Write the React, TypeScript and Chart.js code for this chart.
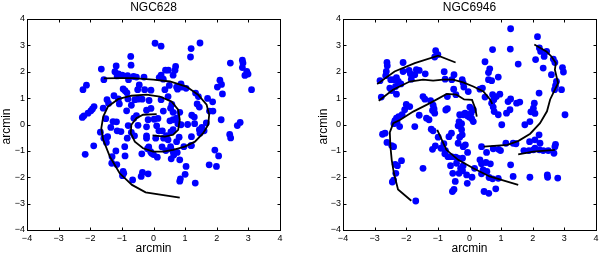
import React, { useEffect, useRef } from "react";
import { Chart, registerables } from "chart.js";

Chart.register(...registerables);

type P = [number, number];

const tickValues = [-4, -3, -2, -1, 0, 1, 2, 3, 4];
const axisLabel = "arcmin";
const title628 = "NGC628";
const title6946 = "NGC6946";

const ngc628Points: P[] = [
  [0.05,3.08],[0.24,2.97],[1.47,3.09],[1.19,2.88],[1.17,2.56],[-0.72,2.58],[-0.71,2.25],[-1.18,2.22],[-1.65,2.1],[2.43,2.33],[2.81,2.44],[2.83,2.33],[2.81,2.16],
  [-1.22,2.0],[-1.11,1.92],[-1.15,1.84],[-0.99,1.87],[-0.82,1.85],[-0.63,1.82],[-0.54,1.8],[-0.3,1.8],[-0.79,1.7],[-1.57,1.7],[0.38,2.06],[0.47,2.06],[0.7,2.2],[0.68,2.06],[0.62,1.87],[0.24,1.87],[0.18,1.78],[0.31,1.72],[2.95,2.01],[2.89,1.86],[2.99,1.91],[2.1,1.68],
  [-2.12,1.49],[-2.23,1.32],[-0.96,1.35],[-0.9,1.28],[-0.84,1.2],[-0.45,1.5],[-0.5,1.32],[-0.28,1.32],[-0.08,1.3],[0.36,1.32],[0.5,1.48],[0.76,1.34],[0.9,1.42],[0.87,1.54],[0.73,1.42],[1.03,1.37],[1.33,1.19],[2.15,1.52],[2.18,1.16],[2.02,1.42],[3.1,1.32],[-1.25,1.09],[-1.47,0.94],[-1.59,0.62],
  [-1.11,0.97],[-0.81,0.97],[-0.59,0.94],[-0.49,0.96],[-0.36,0.96],[-0.7,0.73],[-1.08,0.78],[-1.42,0.8],[-0.14,0.91],[0.24,0.94],[0.46,1.06],[0.58,0.76],[0.54,0.62],[1.42,1.06],[1.38,0.78],[1.45,0.66],[1.71,0.99],[1.87,0.86],[1.88,0.51],[1.77,0.51],[1.21,0.35],[1.29,0.28],[-1.88,0.68],[-1.93,0.59],[-1.98,0.52],[-2.07,0.43],[-2.2,0.33],[-2.25,0.27],[-0.22,0.54],[-0.85,0.52],[-0.08,0.61],[0.31,0.51],[0.62,0.46],[0.83,0.46],
  [-1.28,0.11],[-1.17,0.1],[-1.51,0.22],[-0.62,0.24],[-0.54,0.34],[-0.8,-0.04],[-0.49,-0.03],[-0.22,-0.09],[-0.17,0.18],[0.02,0.2],[0.1,-0.05],[0.14,0.23],[0.17,-0.24],[0.28,-0.24],[0.52,0.14],[0.62,0.18],[0.73,0.24],[0.77,0.03],[0.87,-0.01],[1.08,0],[1.3,0.03],[1.53,-0.11],[1.67,0.06],[2.14,0.18],[2.74,0.08],[2.65,-0.04],[-1.68,-0.29],[-1.35,-0.11],[-1.15,-0.24],[-1.03,-0.27],[-0.7,-0.3],[-0.6,-0.43],
  [-1.57,-0.52],[-1.49,-0.68],[-1.45,-0.46],[-0.83,-0.52],[-0.91,-0.84],[-0.22,-0.43],[-0.22,-0.52],[0.07,-0.52],[0.32,-0.52],[0.41,-0.42],[0.55,-0.28],[0.62,-0.2],[0.46,-0.58],[0.73,-0.65],[0.81,-0.48],[1.2,-0.46],[1.2,-0.8],[1.45,-0.2],[1.47,-0.33],[1.6,-0.24],[2.41,-0.38],[2.44,-0.51],[0.27,-0.85],[-0.15,-0.85],[0.54,-0.84],
  [-1.89,-0.81],[-2.16,-1.13],[-1.31,-1.22],[-1.19,-1.0],[-0.9,-1.19],[-0.37,-1.11],[-0.19,-0.92],[-0.09,-1.03],[0,-1.14],[0.12,-1.24],[-0.06,-1.09],[0.39,-0.99],[0.55,-0.92],[0.62,-1.03],[0.64,-1.16],[0.75,-1.06],[0.56,-1.3],[0.83,-1.34],[0.96,-0.84],[1.18,-0.8],[1.94,-0.97],[2.06,-1.19],[1.76,-1.53],[1.99,-1.59],[-1.32,-1.47],[-1.16,-1.52],[1.03,-1.59],
  [-0.96,-1.78],[-0.94,-1.85],[-0.98,-1.94],[-0.66,-2.1],[-0.35,-1.82],[-0.39,-1.97],[-0.17,-1.87],[1.0,-1.89],[0.85,-2.06],[0.83,-2.15],[1.32,-2.22],
];

const ngc628ArmOuter: P[] = [
  [0.83,-2.77],[-0.25,-2.57],[-0.68,-2.29],[-1.07,-1.85],[-1.38,-1.22],[-1.59,-0.58],[-1.65,-0.14],[-1.59,0.3],[-1.44,0.68],[-1.12,0.96],[-0.7,1.09],[-0.22,1.13],[0.2,1.06],[0.57,0.87],[0.78,0.56],[0.83,0.18],[0.78,-0.2],[0.62,-0.39],[0.36,-0.46],[-0.03,-0.41],
];
const ngc628ArmInner: P[] = [
  [-1.57,1.75],[-1.12,1.76],[-0.64,1.76],[-0.01,1.7],[0.52,1.63],[1.04,1.44],[1.41,1.13],[1.68,0.75],[1.76,0.37],[1.73,-0.01],[1.57,-0.33],[1.31,-0.65],[0.99,-0.84],[0.62,-0.96],[0.31,-1.03],[-0.01,-1.03],[-0.33,-0.9],[-0.59,-0.65],[-0.72,-0.33],[-0.7,-0.01],[-0.54,0.24],[-0.33,0.37],[0.1,0.39],
];

const ngc6946Points: P[] = [
  [1.3,3.63],[2.15,3.33],[1.29,2.86],[0.73,2.84],[-1.07,2.8],[-1.1,2.56],[-1.0,2.65],[2.21,2.9],[2.25,2.77],[2.44,2.77],[2.36,2.58],[2.65,2.48],[2.7,2.35],[2.09,2.46],[2.33,2.14],[2.59,1.89],[2.94,2.16],[2.97,1.99],[1.54,2.29],[0.49,2.38],[0.64,2.11],[0.6,1.97],[0.91,1.8],[0.6,1.7],[0.7,1.66],
  [-2.61,2.35],[-2.6,2.23],[-2.1,2.35],[-2.63,2.01],[-2.65,1.85],[-2.83,1.66],[-2.49,1.7],[-2.39,1.7],[-2.25,1.63],[-2.17,1.54],[-2.31,1.78],[-2.1,2.01],[-1.91,2.05],[-1.87,1.92],[-1.73,1.89],[-1.68,2.08],[-1.59,2.05],[-1.4,1.92],[-1.84,1.72],[-2.52,1.38],[-2.46,1.29],[-2.34,1.44],[-2.31,1.15],[-2.79,1.04],
  [-0.8,2.0],[-0.49,1.89],[-0.77,1.72],[-0.56,1.7],[-0.23,1.7],[-0.2,1.57],[-0.18,1.42],[-0.04,1.25],[0.33,1.34],[0.41,1.38],[0.49,1.04],[-0.5,1.34],[-0.43,1.13],[-0.7,1.06],
  [-1.47,1.06],[-1.41,0.96],[-1.23,0.9],[-1.15,0.73],[-1.12,0.59],[-1.17,0.53],[-1.1,0.43],[-1.36,0.24],[-1.28,0.18],[-1.59,0.35],[-1.89,0.68],[-2.05,0.56],[-2.0,0.76],[-2.13,0.37],[-2.24,0.3],[-2.31,0.24],[-2.36,0.15],[-2.29,0.08],[-2.39,0.03],[-2.21,-0.08],[-1.73,-0.08],[-0.75,0.55],[-0.7,0.6],
  [-2.75,-0.37],[-2.67,-0.33],[-2.61,-0.68],[-2.46,-0.8],[-2.4,-0.84],[-2.35,-1.51],[-2.28,-1.56],[-2.33,-1.85],[-2.15,-1.37],[-2.4,-2.11],[-2.44,-2.18],[-1.47,-1.66],[-1.7,-2.9],
  [-1.21,-0.18],[-1.15,-0.24],[-1.17,-0.94],[-1.08,-0.81],[-0.99,-0.48],[-0.9,-0.9],[-0.81,-0.73],[-0.76,-0.99],[-0.78,-1.11],[-0.68,-1.22],[-0.57,-1.22],[-0.44,-1.24],[-0.6,-1.56],[-0.41,-1.47],[-0.28,-1.66],[-0.2,-1.56],[-0.33,-1.85],[-0.53,-1.85],[-0.22,-1.75],[-0.09,-1.91],[0.08,-2.0],[-0.07,-2.23],[-0.45,-2.16],[-0.49,-2.46],[-0.54,-2.54],[-0.37,-1.28],[-0.22,-1.28],[-0.06,-1.06],[-0.2,-0.84],[-0.36,-0.71],[-0.31,-0.48],[-0.23,-0.39],[-0.57,-0.33],[-0.65,-0.46],[-0.13,-0.77],
  [-0.33,0.11],[-0.25,0.03],[-0.36,-0.05],[-0.25,-0.2],[-0.2,0.37],[-0.14,0.43],[-0.07,0.33],[-0.01,0.28],[0.05,0.43],[0.07,0.22],[0.12,0.11],[0.01,0.66],[0.12,0.56],[-0.31,0.37],
  [0.38,-0.84],[0.54,-1.06],[0.75,-0.92],[0.92,-0.94],[0.98,-0.99],[0.33,-1.34],[0.38,-1.49],[0.52,-1.44],[0.66,-1.49],[0.16,-1.66],[0.43,-1.72],[0.38,-1.87],[0.55,-1.78],[0.62,-2.01],[0.73,-2.06],[0.91,-2.04],[0.46,-2.54],[0.61,-2.61],[0.83,-2.44],
  [1.15,-0.71],[1.38,-0.71],[1.47,-0.73],[1.3,-1.53],[1.38,-1.97],[1.91,-2.0],[2.46,-1.91],[2.47,-2.0],[2.79,-2.03],[1.72,-0.99],[1.88,-0.99],[2.02,-0.96],[2.07,-0.9],[2.21,-0.96],[2.33,-0.99],[2.49,-0.99],[2.67,-1.09],[2.7,-0.84],[2.72,-0.75],[2.07,-0.58],[1.9,-0.65],[2.23,-0.71],[2.2,-0.39],[1.75,-0.01],[1.91,0.11],
  [1.02,-0.01],[0.91,0.37],[0.78,0.49],[0.75,0.66],[2.05,0.81],[2.02,0.62],[1.94,0.48],[2.07,0.42],[2.2,1.19],[2.75,1.63],[2.72,1.47],[2.69,1.32],[2.91,1.32],[3.02,0.37],[1.22,0.87],[1.3,0.97],[1.49,0.81],[1.59,0.85],[1.17,0.43],[1.28,0.56],[0.73,1.13],[0.85,1.06],[0.96,1.15],[0.77,0.94],[0.7,0.81],
];

const ngc6946ArmA: P[] = [[-2.92,1.53],[-2.37,2.01],[-1.73,2.33],[-0.99,2.61],[-0.44,2.35]];
const ngc6946ArmB: P[] = [[-2.87,0.9],[-2.42,1.32],[-1.89,1.63],[-1.47,1.7],[-1.15,1.66],[-0.83,1.7],[-0.52,1.7],[-0.2,1.6],[0.12,1.44],[0.44,1.25],[0.65,0.95],[0.72,0.78]];
const ngc6946ArmC: P[] = [[-1.84,-2.89],[-2.26,-2.46],[-2.39,-1.85],[-2.46,-1.34],[-2.5,-0.84],[-2.52,-0.3],[-2.41,0.05],[-2.2,0.17],[-1.78,0.49],[-1.25,0.81],[-0.72,1.16],[-0.41,1.13],[-0.17,0.95],[0.08,0.93],[0.18,0.62],[0.23,0.3]];
const ngc6946ArmD: P[] = [[-1.02,-0.2],[-0.73,-0.96],[-0.36,-1.34],[0.12,-1.66],[0.64,-1.97],[1.54,-2.29]];
const ngc6946ArmE: P[] = [[0.45,-0.84],[1.2,-0.77],[1.55,-0.62],[1.92,-0.35],[2.23,0.05],[2.45,0.5],[2.55,0.95],[2.7,1.32],[2.8,1.57],[2.7,2.08],[2.73,2.33],[2.59,2.58],[2.43,2.77],[2.05,3.03]];
const ngc6946ArmF: P[] = [[1.54,-1.13],[2.02,-1.03],[2.7,-0.96]];

const FONT = '"Liberation Sans", Arial, Helvetica, sans-serif';

type PanelProps = {
  title: string;
  points: P[];
  arms: P[][];
  areaLeft: number;
  areaRight: number;
  yLabelX: number;
};

function Panel({ title, points, arms, areaLeft, areaRight, yLabelX }: PanelProps) {
  const ref = useRef<HTMLCanvasElement | null>(null);
  useEffect(() => {
    if (!ref.current) return;
    const W = 300;
    const H = 254;
    const decor = {
      id: "matlabDecor",
      afterDraw(chart: any) {
        const ctx = chart.ctx;
        const a = chart.chartArea;
        const xs = chart.scales.x;
        const ys = chart.scales.y;
        ctx.save();
        ctx.strokeStyle = "#000";
        ctx.lineWidth = 1;
        const L = Math.round(a.left) + 0.5;
        const R = Math.round(a.right) + 0.5;
        const T = Math.round(a.top) + 0.5;
        const B = Math.round(a.bottom) + 0.5;
        ctx.strokeRect(L, T, R - L, B - T);
        ctx.beginPath();
        tickValues.forEach((v) => {
          const px = Math.round(xs.getPixelForValue(v)) + 0.5;
          ctx.moveTo(px, B); ctx.lineTo(px, B - 3);
          ctx.moveTo(px, T); ctx.lineTo(px, T + 3);
          const py = Math.round(ys.getPixelForValue(v)) + 0.5;
          ctx.moveTo(L, py); ctx.lineTo(L + 3, py);
          ctx.moveTo(R, py); ctx.lineTo(R - 3, py);
        });
        ctx.stroke();
        ctx.fillStyle = "#000";
        ctx.font = `9px ${FONT}`;
        const fmt = (v: number) => (v < 0 ? "\u2212" + Math.abs(v) : String(v));
        ctx.textAlign = "center";
        ctx.textBaseline = "top";
        tickValues.forEach((v) => {
          ctx.fillText(fmt(v), xs.getPixelForValue(v), a.bottom + 4);
        });
        ctx.textAlign = "right";
        ctx.textBaseline = "middle";
        tickValues.forEach((v) => {
          ctx.fillText(fmt(v), a.left - 2, ys.getPixelForValue(v));
        });
        ctx.font = `12px ${FONT}`;
        ctx.textAlign = "center";
        ctx.textBaseline = "alphabetic";
        const cx = (a.left + a.right) / 2;
        ctx.fillText(title, cx, 11);
        ctx.fillText(axisLabel, cx, 252);
        ctx.translate(yLabelX, (a.top + a.bottom) / 2 + 2);
        ctx.rotate(-Math.PI / 2);
        ctx.fillText(axisLabel, 0, 0);
        ctx.restore();
      },
    };
    const chart = new Chart(ref.current, {
      type: "scatter",
      data: {
        datasets: [
          ...arms.map((arm) => ({
            type: "line" as const,
            data: arm.map(([x, y]) => ({ x, y })),
            borderColor: "#000",
            borderWidth: 1.8,
            pointRadius: 0,
            showLine: true,
            fill: false,
            tension: 0,
            order: 0,
          })),
          {
            type: "scatter" as const,
            data: points.map(([x, y]) => ({ x, y })),
            backgroundColor: "#0000ff",
            borderWidth: 0,
            pointRadius: 3.4,
            order: 1,
          },
        ],
      } as any,
      options: {
        animation: false,
        responsive: false,
        maintainAspectRatio: false,
        events: [],
        layout: { padding: { top: 19, right: W - areaRight, left: 0, bottom: 0 } },
        plugins: { legend: { display: false }, tooltip: { enabled: false }, title: { display: false } },
        scales: {
          x: {
            type: "linear",
            min: -4,
            max: 4,
            grid: { display: false, drawTicks: false },
            border: { display: false },
            ticks: { display: false, stepSize: 1 },
            afterFit: (s: any) => { s.height = H - 230; },
          },
          y: {
            type: "linear",
            min: -4,
            max: 4,
            grid: { display: false, drawTicks: false },
            border: { display: false },
            ticks: { display: false, stepSize: 1 },
            afterFit: (s: any) => { s.width = areaLeft; },
          },
        },
      } as any,
      plugins: [decor],
    });
    return () => chart.destroy();
  }, [title, points, arms, areaLeft, areaRight, yLabelX]);
  return <canvas ref={ref} width={300} height={254} style={{ display: "block", width: 300, height: 254 }} />;
}

export default function App() {
  return (
    <div style={{ position: "absolute", left: 0, top: 0, width: 600, height: 254, display: "flex", background: "#fff" }}>
      <Panel title={title628} points={ngc628Points} arms={[ngc628ArmOuter, ngc628ArmInner]} areaLeft={27} areaRight={280} yLabelX={10} />
      <Panel title={title6946} points={ngc6946Points} arms={[ngc6946ArmA, ngc6946ArmB, ngc6946ArmC, ngc6946ArmD, ngc6946ArmE, ngc6946ArmF]} areaLeft={43} areaRight={296} yLabelX={27} />
    </div>
  );
}
